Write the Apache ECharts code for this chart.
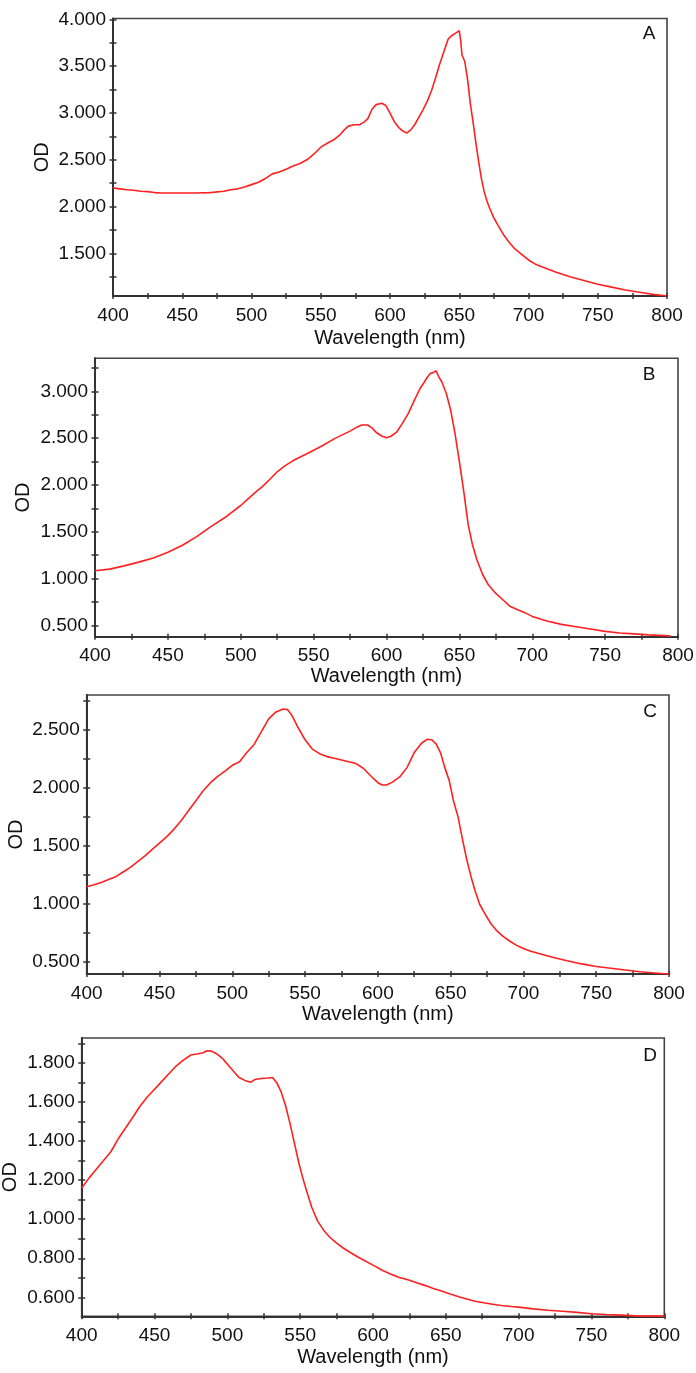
<!DOCTYPE html>
<html><head><meta charset="utf-8">
<script src="https://cdn.jsdelivr.net/npm/echarts@6/dist/echarts.min.js"></script>
<style>html,body{margin:0;padding:0;background:#fff}#c{width:696px;height:1373px}</style>
</head><body><div id="c"></div>
<script>
// ---------- data ----------
const wlA=[400,405,410,415,420,425,430,435,440,450,460,470,480,485,490,495,500,505,510,515,520,525,530,535,540,545,550,555,560,564,567,570,574,578,581,584,587,590,594,597,600,603,606,609,612,615,618,621,624,627,630,633,636,639,642,644,645,646,647,648,649,650,651,652,654,656,658,660,662,664,666,668,670,672,675,678,682,686,690,695,700,705,710,720,730,740,750,760,770,780,790,800];
const odA=[2.20,2.19,2.18,2.175,2.165,2.16,2.15,2.145,2.145,2.145,2.145,2.15,2.165,2.18,2.19,2.21,2.235,2.26,2.30,2.35,2.37,2.40,2.435,2.46,2.50,2.56,2.635,2.68,2.72,2.77,2.82,2.86,2.875,2.875,2.90,2.94,3.04,3.09,3.105,3.08,3.00,2.91,2.85,2.81,2.785,2.82,2.88,2.96,3.04,3.13,3.24,3.38,3.53,3.66,3.79,3.82,3.80,3.84,3.82,3.86,3.84,3.88,3.78,3.62,3.55,3.36,3.10,2.90,2.68,2.48,2.30,2.16,2.06,1.98,1.88,1.80,1.70,1.62,1.55,1.49,1.43,1.385,1.355,1.30,1.25,1.21,1.17,1.14,1.11,1.085,1.062,1.045];

const wlB=[400,410,420,430,440,450,460,470,480,490,500,505,510,515,520,525,530,536,545,555,565,575,580,583,587,590,593,597,600,603,607,611,615,619,623,626,628,630,632,633,634,636,638,641,644,647,650,653,656,659,662,666,670,675,680,685,690,695,700,705,710,720,730,740,750,760,770,780,790,795];
const odB=[1.083,1.10,1.135,1.175,1.22,1.28,1.355,1.45,1.56,1.66,1.78,1.85,1.92,1.985,2.06,2.14,2.20,2.26,2.33,2.41,2.50,2.575,2.62,2.64,2.64,2.61,2.56,2.52,2.505,2.52,2.565,2.66,2.765,2.90,3.03,3.10,3.15,3.19,3.20,3.18,3.22,3.15,3.10,2.98,2.80,2.55,2.25,1.93,1.58,1.36,1.20,1.04,0.93,0.84,0.77,0.70,0.665,0.635,0.595,0.57,0.545,0.51,0.485,0.46,0.435,0.418,0.408,0.398,0.39,0.384];

const wlC=[400,405,410,415,420,425,430,435,440,445,450,455,460,465,470,475,480,485,490,495,500,505,510,515,520,525,530,535,538,541,545,550,555,560,565,570,575,580,585,590,595,600,603,606,610,615,620,625,630,634,637,640,643,646,649,652,655,658,661,664,667,670,674,678,682,686,690,695,700,705,710,720,730,740,750,760,770,780,790,800];
const odC=[1.143,1.16,1.18,1.205,1.23,1.27,1.31,1.36,1.41,1.465,1.52,1.575,1.64,1.715,1.80,1.885,1.97,2.04,2.095,2.14,2.19,2.22,2.30,2.37,2.48,2.59,2.65,2.675,2.67,2.62,2.52,2.41,2.33,2.29,2.265,2.25,2.235,2.22,2.205,2.165,2.10,2.04,2.02,2.02,2.045,2.09,2.17,2.30,2.38,2.415,2.41,2.375,2.30,2.17,2.06,1.88,1.75,1.56,1.38,1.23,1.10,0.99,0.90,0.82,0.76,0.715,0.68,0.64,0.61,0.588,0.57,0.535,0.505,0.478,0.455,0.44,0.425,0.41,0.40,0.39];

const wlD=[400,405,410,415,420,425,430,435,440,445,450,455,460,465,470,475,480,483,486,489,493,497,501,505,508,512,516,519,523,528,531,534,537,540,543,546,549,552,555,558,562,566,570,575,580,585,590,595,600,607,612,618,624,630,636,641,647,653,660,665,670,676,682,688,695,700,710,720,730,740,750,760,770,780,790,800];
const odD=[1.159,1.21,1.255,1.30,1.345,1.41,1.465,1.52,1.578,1.625,1.665,1.705,1.745,1.785,1.815,1.84,1.846,1.85,1.862,1.86,1.845,1.82,1.785,1.75,1.725,1.71,1.70,1.715,1.72,1.722,1.725,1.697,1.65,1.58,1.49,1.39,1.29,1.205,1.13,1.06,0.99,0.945,0.91,0.877,0.85,0.827,0.805,0.785,0.765,0.736,0.72,0.702,0.69,0.675,0.66,0.646,0.633,0.617,0.60,0.59,0.58,0.572,0.565,0.558,0.553,0.55,0.541,0.534,0.529,0.523,0.516,0.512,0.509,0.505,0.504,0.504];

// tick values
const xTicks=[400,425,450,475,500,525,550,575,600,625,650,675,700,725,750,775,800];
const xLabels=[400,450,500,550,600,650,700,750,800];
const yTicksA=[1.25,1.5,1.75,2.0,2.25,2.5,2.75,3.0,3.25,3.5,3.75,4.0];
const yLabelsA=[1.5,2.0,2.5,3.0,3.5,4.0];
const yTicksB=[0.5,0.75,1.0,1.25,1.5,1.75,2.0,2.25,2.5,2.75,3.0,3.25];
const yLabelsB=[0.5,1.0,1.5,2.0,2.5,3.0];
const yTicksC=[0.5,0.75,1.0,1.25,1.5,1.75,2.0,2.25,2.5,2.75];
const yLabelsC=[0.5,1.0,1.5,2.0,2.5];
const yTicksD=[0.5,0.6,0.7,0.8,0.9,1.0,1.1,1.2,1.3,1.4,1.5,1.6,1.7,1.8,1.9];
const yLabelsD=[0.6,0.8,1.0,1.2,1.4,1.6,1.8];
const yRangeA=[1.045,4.01], yRangeB=[0.378,3.353], yRangeC=[0.391,2.796], yRangeD=[0.503,1.927];
const letters=['A','B','C','D'];
const xName='Wavelength (nm)', yName='OD';

// ---------- layout ----------
const layout=[
  {grid:{left:113,top:18.5,width:554,height:277.5}, yGap:61, xGap:32, letter:[649,34]},
  {grid:{left:95,top:358.3,width:583,height:278.4}, yGap:62, xGap:30, letter:[649,375]},
  {grid:{left:86.7,top:695,width:582.3,height:279}, yGap:60, xGap:30, letter:[650,712]},
  {grid:{left:81.7,top:1038,width:582.6,height:278.3}, yGap:61, xGap:31, letter:[650,1056]}
];
const panels=[
  {wl:wlA,od:odA,yr:yRangeA,yt:yTicksA,yl:yLabelsA},
  {wl:wlB,od:odB,yr:yRangeB,yt:yTicksB,yl:yLabelsB},
  {wl:wlC,od:odC,yr:yRangeC,yt:yTicksC,yl:yLabelsC},
  {wl:wlD,od:odD,yr:yRangeD,yt:yTicksD,yl:yLabelsD}
];

const FONT='Liberation Sans, Arial, sans-serif';
const AX='#333';
const grids=[],xAxes=[],yAxes=[],series=[],graphics=[];
panels.forEach((p,i)=>{
  const L=layout[i];
  grids.push(Object.assign({show:true,borderColor:'#444',borderWidth:1.6,backgroundColor:'transparent',
    containLabel:false,outerBoundsMode:'none'},L.grid));
  xAxes.push({type:'value',gridIndex:i,min:400,max:800,
    name:xName,nameLocation:'middle',nameGap:L.xGap,nameMoveOverlap:false,
    nameTextStyle:{fontFamily:FONT,fontSize:20,color:'#111'},
    axisLine:{show:true,lineStyle:{color:AX,width:2}},
    axisTick:{show:true,inside:false,length:3,lineStyle:{color:AX,width:1.5},customValues:xTicks},
    axisLabel:{show:true,margin:10,fontFamily:FONT,fontSize:19,color:'#111',customValues:xLabels},
    splitLine:{show:false}});
  yAxes.push({type:'value',gridIndex:i,min:p.yr[0],max:p.yr[1],
    name:yName,nameLocation:'middle',nameGap:L.yGap,nameRotate:90,nameMoveOverlap:false,
    nameTextStyle:{fontFamily:FONT,fontSize:20,color:'#111'},
    axisLine:{show:true,lineStyle:{color:AX,width:2}},
    axisTick:{show:true,inside:false,length:3.5,lineStyle:{color:AX,width:1.5},customValues:p.yt},
    axisLabel:{show:true,margin:7,fontFamily:FONT,fontSize:19,color:'#111',customValues:p.yl,
      formatter:v=>Number(v).toFixed(3)},
    splitLine:{show:false}});
  series.push({type:'line',xAxisIndex:i,yAxisIndex:i,showSymbol:false,symbol:'none',
    lineStyle:{color:'#ff2020',width:1.6},animation:false,
    data:p.wl.map((w,k)=>[w,p.od[k]])});
  graphics.push({type:'text',x:L.letter[0],y:L.letter[1],
    style:{text:letters[i],font:'19px '+FONT,fill:'#111',align:'center',verticalAlign:'middle'}});
});
// secondary axes: inward half of the crossing ticks
panels.forEach((p,i)=>{
  xAxes.push({type:'value',gridIndex:i,min:400,max:800,position:'bottom',
    axisLine:{show:false},axisLabel:{show:false},splitLine:{show:false},
    axisTick:{show:true,inside:true,length:3,lineStyle:{color:AX,width:1.5},customValues:xTicks}});
  yAxes.push({type:'value',gridIndex:i,min:p.yr[0],max:p.yr[1],position:'left',
    axisLine:{show:false},axisLabel:{show:false},splitLine:{show:false},
    axisTick:{show:true,inside:true,length:3.5,lineStyle:{color:AX,width:1.5},customValues:p.yt}});
});

const chart=echarts.init(document.getElementById('c'),null,{renderer:'canvas'});
chart.setOption({animation:false,backgroundColor:'#fff',grid:grids,xAxis:xAxes,yAxis:yAxes,series:series,graphic:graphics});
</script></body></html>
